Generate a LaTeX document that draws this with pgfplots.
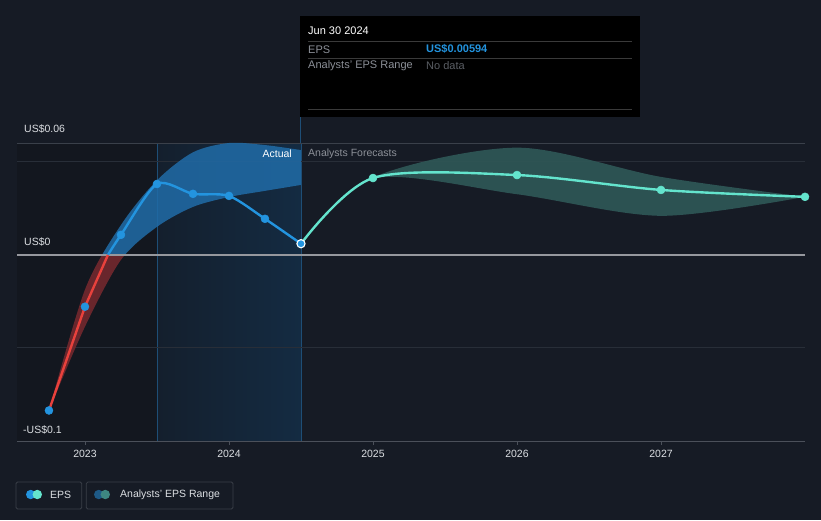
\documentclass[border=0pt]{standalone}
\usepackage{fontspec}
\setmainfont{Liberation Sans}
\usepackage{pgfplots}
\pgfplotsset{compat=1.18}
\usepgfplotslibrary{fillbetween}
\definecolor{bgc}{RGB}{22,27,37}
\definecolor{leftbg}{RGB}{19,23,31}
\definecolor{blA}{RGB}{20,31,45}
\definecolor{blB}{RGB}{20,43,66}
\definecolor{vline}{RGB}{30,78,118}
\definecolor{gridA}{RGB}{58,64,74}
\definecolor{gridB}{RGB}{40,46,56}
\definecolor{zeroc}{RGB}{150,152,158}
\definecolor{axisc}{RGB}{75,80,90}
\definecolor{epsblue}{RGB}{35,148,223}
\definecolor{epsred}{RGB}{232,65,60}
\definecolor{teal}{RGB}{100,228,205}
\definecolor{bandblue}{RGB}{32,108,168}
\definecolor{bandred}{RGB}{115,40,46}
\definecolor{bandteal}{RGB}{47,88,87}
\definecolor{txt}{RGB}{220,223,227}
\definecolor{gtxt}{RGB}{140,144,152}
\definecolor{dtxt}{RGB}{90,94,100}
\definecolor{tipline}{RGB}{58,58,58}
\definecolor{legbox}{RGB}{58,63,72}
\definecolor{legblue}{RGB}{30,90,135}
\definecolor{legteal}{RGB}{62,135,130}

\pgfplotstableread{
x y
2022.75 -0.0836
2023.0 -0.0279
2023.16 0
}\epsneg
\pgfplotstableread{
x y
2023.16 0
2023.25 0.0107
2023.5 0.0380
2023.75 0.0327
2024.0 0.0316
2024.25 0.0193
2024.5 0.00594
}\epspos
\pgfplotstableread{
x y
2022.75 -0.0836
2023.0 -0.0279
2023.25 0.0107
2023.5 0.0380
2023.75 0.0327
2024.0 0.0316
2024.25 0.0193
}\epsmarks
\pgfplotstableread{
x y
2024.5 0.00594
2025.0 0.0412
2026.0 0.0428
2027.0 0.0348
2028.0 0.0311
}\fcast
\pgfplotstableread{
x y
2022.75 -0.0836
2023.0 -0.0187
2023.25 0.0160
2023.5 0.0400
2023.75 0.0550
2024.0 0.0600
2024.25 0.0589
2024.5 0.0562
}\histhi
\pgfplotstableread{
x y
2022.75 -0.0836
2023.0 -0.0386
2023.25 -0.0027
2023.5 0.0150
2023.75 0.0257
2024.0 0.0310
2024.25 0.0343
2024.5 0.0375
}\histlo
\pgfplotstableread{
x y
2024.5 0.00594
2025.0 0.0415
2026.0 0.0575
2027.0 0.0418
2028.0 0.0311
}\fchi
\pgfplotstableread{
x y
2024.5 0.00594
2025.0 0.0410
2026.0 0.0325
2027.0 0.0209
2028.0 0.0311
}\fclo

\begin{document}
\fontsize{10.5bp}{12bp}\selectfont
\begin{tikzpicture}
\begin{axis}[
  set layers,
  clip=false,
  at={(17bp,-441bp)}, anchor=south west,
  scale only axis, width=788bp, height=298bp,
  xmin=2022.528, xmax=2028, ymin=-0.1, ymax=0.06,
  axis x line*=bottom, axis y line=none,
  x axis line style={draw=axisc, line width=1pt},
  xtick={2023,2024,2025,2026,2027},
  xticklabels={2023,2024,2025,2026,2027},
  xticklabel style={text=txt, font=\fontsize{10.5bp}{12bp}\selectfont, yshift=-1bp},
  tick align=outside, major tick length=4bp,
  tick style={draw=axisc, line width=0.8pt},
  ytick=\empty,
]
\begin{pgfonlayer}{axis background}
\fill[bgc] (axis cs:2022.40995,-0.142416) rectangle (axis cs:2028.1111,0.136779);
\fill[leftbg] (axis cs:2022.528,-0.1) rectangle (axis cs:2023.5,0.06);
\shade[left color=blA, right color=blB] (axis cs:2023.5,-0.1) rectangle (axis cs:2024.5,0.06);
\draw[vline, line width=0.8pt] (axis cs:2023.5,-0.1) -- (axis cs:2023.5,0.06);
\draw[vline, line width=0.8pt] (axis cs:2024.5,-0.1) -- (axis cs:2024.5,0.06);
\draw[gridA, line width=1pt] (axis cs:2022.528,0.06) -- (axis cs:2028,0.06);
\draw[gridB, line width=0.8pt] (axis cs:2022.528,0.05) -- (axis cs:2028,0.05);
\draw[gridB, line width=0.8pt] (axis cs:2022.528,-0.05) -- (axis cs:2028,-0.05);
\end{pgfonlayer}

\addplot[name path=hu, draw=none, smooth] table {\histhi};
\addplot[name path=hl, draw=none, smooth] table {\histlo};
\addplot[fill=bandblue, fill opacity=0.85, draw=none]
  fill between[of=hu and hl, soft clip={(axis cs:2022,0) rectangle (axis cs:2029,0.2)}];
\addplot[fill=bandred, fill opacity=0.9, draw=none]
  fill between[of=hu and hl, soft clip={(axis cs:2022,-0.2) rectangle (axis cs:2029,0)}];

\addplot[name path=fu, draw=none, smooth] table {\fchi};
\addplot[name path=fl, draw=none, smooth] table {\fclo};
\addplot[fill=bandteal, fill opacity=0.9, draw=none] fill between[of=fu and fl];

\draw[zeroc, line width=1.6pt] (axis cs:2022.528,0) -- (axis cs:2028,0);

\addplot[epsred, line width=2.4pt, no marks] table {\epsneg};
\addplot[epsblue, line width=2.4pt, no marks, smooth, tension=0.45] table {\epspos};
\addplot[teal, line width=2.4pt, no marks, smooth, tension=0.5] table {\fcast};
\addplot[only marks, mark=*, mark size=4pt, color=epsblue, line width=0.5pt] table {\epsmarks};
\addplot[only marks, mark=*, mark size=4pt, color=teal, line width=0.5pt] table[skip first n=1] {\fcast};
\addplot[only marks, mark=*, mark size=4.1pt, draw=white, fill=epsblue, line width=1.1pt] coordinates {(2024.5,0.00594)};
\end{axis}

% y labels
\node[anchor=west, text=txt, inner sep=0pt] at (24bp,-129bp) {US\$0.06};
\node[anchor=west, text=txt, inner sep=0pt] at (24bp,-242bp) {US\$0};
\node[anchor=west, text=txt, inner sep=0pt] at (23bp,-430bp) {-US\$0.1};
\node[anchor=east, text=white, inner sep=0pt] at (292bp,-154bp) {Actual};
\node[anchor=west, text=gtxt, inner sep=0pt] at (308bp,-154bp) {Analysts Forecasts};

% tooltip
\draw[vline, line width=0.8pt] (300bp,-117bp) -- (300bp,-143bp);
\fill[black] (300bp,-16bp) rectangle (640bp,-117bp);
\draw[tipline, line width=0.8pt] (308bp,-41.7bp) -- (632bp,-41.7bp);
\draw[tipline, line width=0.8pt] (308bp,-58.3bp) -- (632bp,-58.3bp);
\draw[tipline, line width=0.8pt] (308bp,-109.3bp) -- (632bp,-109.3bp);
\begin{scope}[every node/.style={inner sep=0pt, font=\fontsize{11bp}{13bp}\selectfont}]
\node[anchor=west, text=white] at (308bp,-31bp) {Jun 30 2024};
\node[anchor=west, text=gtxt] at (308bp,-49.3bp) {EPS};
\node[anchor=west, text=epsblue] at (426bp,-49.3bp) {\bfseries US\$0.00594};
\node[anchor=west, text=gtxt] at (308bp,-66bp) {Analysts' EPS Range};
\node[anchor=west, text=dtxt] at (426bp,-66bp) {No data};
\end{scope}

% legend
\draw[legbox, line width=0.8pt, rounded corners=1.5bp] (16bp,-482bp) rectangle (81.7bp,-509bp);
\draw[legbox, line width=0.8pt, rounded corners=1.5bp] (86.3bp,-482bp) rectangle (233bp,-509bp);
\fill[epsblue] (30.7bp,-494.5bp) circle (4.7bp);
\fill[teal] (37.3bp,-494.5bp) circle (4.7bp);
\fill[legblue] (98.7bp,-494.5bp) circle (4.7bp);
\fill[legteal] (105.3bp,-494.5bp) circle (4.7bp);
\node[anchor=west, text=txt, inner sep=0pt] at (50bp,-494.5bp) {EPS};
\node[anchor=west, text=txt, inner sep=0pt] at (120bp,-494.5bp) {Analysts' EPS Range};
\end{tikzpicture}
\end{document}
